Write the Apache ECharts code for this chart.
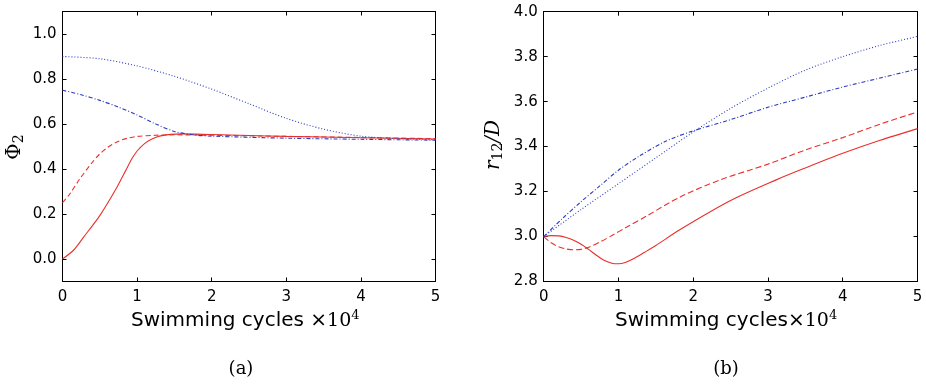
<!DOCTYPE html>
<html><head><meta charset="utf-8">
<script src="https://cdn.jsdelivr.net/npm/echarts@6/dist/echarts.min.js"></script>
<style>html,body{margin:0;padding:0;background:#fff}#c{width:926px;height:384px}</style>
</head><body><div id="c"></div>
<script>
// ---- Panel (a): Phi_2 vs swimming cycles (x10^4)
const xTicks = [0, 1, 2, 3, 4, 5];
const phiTicks = [0.0, 0.2, 0.4, 0.6, 0.8, 1.0];
const rTicks = [2.8, 3.0, 3.2, 3.4, 3.6, 3.8, 4.0];

const phiSolidX = [0, 0.15, 0.28, 0.5, 0.73, 0.85, 0.92, 1.0, 1.1, 1.2, 1.3, 1.45, 1.6, 2, 2.5, 3, 4, 5];
const phiSolidY = [0, 0.04, 0.096, 0.193, 0.319, 0.395, 0.44, 0.48, 0.513, 0.533, 0.546, 0.554, 0.556, 0.553, 0.549, 0.545, 0.539, 0.533];

const phiDashX = [0, 0.1, 0.23, 0.4, 0.5, 0.6, 0.7, 0.8, 0.9, 1, 1.25, 1.5, 2, 3, 4, 5];
const phiDashY = [0.25, 0.29, 0.355, 0.43, 0.467, 0.495, 0.515, 0.53, 0.539, 0.545, 0.55, 0.552, 0.55, 0.545, 0.54, 0.535];

const phiDotX = [0, 0.5, 1, 1.5, 2, 2.5, 3, 3.5, 4, 4.5, 5];
const phiDotY = [0.90, 0.89, 0.858, 0.812, 0.755, 0.69, 0.625, 0.577, 0.546, 0.535, 0.53];

const phiDashDotX = [0, 0.25, 0.5, 0.75, 1, 1.25, 1.5, 1.75, 2, 3, 4, 5];
const phiDashDotY = [0.75, 0.73, 0.705, 0.675, 0.64, 0.60, 0.567, 0.552, 0.546, 0.537, 0.532, 0.528];

// ---- Panel (b): r12/D vs swimming cycles (x10^4)
const rSolidX = [0, 0.1, 0.2, 0.3, 0.4, 0.5, 0.6, 0.7, 0.8, 0.9, 0.95, 1.0, 1.1, 1.2, 1.35, 1.5, 1.82, 2.5, 3.11, 3.5, 4, 4.5, 5];
const rSolidY = [3.0, 3.004, 3.003, 2.996, 2.984, 2.966, 2.943, 2.918, 2.896, 2.882, 2.879, 2.879, 2.886, 2.901, 2.93, 2.96, 3.03, 3.16, 3.252, 3.305, 3.37, 3.428, 3.48];

const rDashX = [0, 0.1, 0.2, 0.3, 0.4, 0.5, 0.6, 0.75, 0.93, 1.1, 1.38, 1.82, 2.36, 3, 3.5, 4, 4.5, 5];
const rDashY = [3.0, 2.972, 2.955, 2.945, 2.941, 2.943, 2.952, 2.975, 3.008, 3.04, 3.092, 3.175, 3.252, 3.322, 3.385, 3.44, 3.50, 3.554];

const rDotX = [0, 0.5, 1, 1.5, 2, 2.5, 3, 3.5, 4, 4.5, 5];
const rDotY = [3.0, 3.12, 3.235, 3.35, 3.465, 3.57, 3.66, 3.74, 3.80, 3.85, 3.89];

const rDashDotX = [0, 0.25, 0.5, 0.75, 1.0, 1.29, 1.64, 2, 2.5, 3, 3.5, 4, 4.5, 5];
const rDashDotY = [3.0, 3.08, 3.155, 3.225, 3.295, 3.36, 3.425, 3.47, 3.52, 3.575, 3.62, 3.665, 3.705, 3.745];

const RED = '#e8302c', BLUE = '#2b3cbf';
const zip = (xs, ys) => xs.map((x, i) => [x, ys[i]]);

const chart = echarts.init(document.getElementById('c'), null, {renderer: 'canvas'});
const FONT = 'DejaVu Sans';
const SERIF = 'DejaVu Serif';

function xAx(grid, bottom) {
  return {
    type: 'value', gridIndex: grid, min: 0, max: 5, position: bottom ? 'bottom' : 'top',
    axisLine: {show: true, onZero: false, lineStyle: {color: '#000', width: 1}},
    axisTick: {show: true, inside: true, length: 4, lineStyle: {color: '#000'}, customValues: xTicks},
    axisLabel: {show: bottom, color: '#000', fontFamily: FONT, fontSize: 15, margin: 8, customValues: xTicks, formatter: v => String(v)},
    splitLine: {show: false}
  };
}
function yAx(grid, left, min, max, ticks) {
  return {
    type: 'value', gridIndex: grid, min: min, max: max, position: left ? 'left' : 'right',
    axisLine: {show: true, onZero: false, lineStyle: {color: '#000', width: 1}},
    axisTick: {show: true, inside: true, length: 4, lineStyle: {color: '#000'}, customValues: ticks},
    axisLabel: {show: left, color: '#000', fontFamily: FONT, fontSize: 15, margin: 6, customValues: ticks, formatter: v => v.toFixed(1)},
    splitLine: {show: false}
  };
}
function line(data, color, dash, xi, yi) {
  return {
    type: 'line', data: data, xAxisIndex: xi, yAxisIndex: yi, showSymbol: false, symbol: 'none',
    smooth: 0.3, animation: false,
    lineStyle: {color: color, width: 1.1, type: dash}
  };
}

chart.setOption({
  animation: false,
  grid: [
    {left: 62.5, right: 490.5, top: 11.5, bottom: 102.5},
    {left: 543.7, right: 8.5, top: 11.7, bottom: 102.5}
  ],
  xAxis: [xAx(0, true), xAx(0, false), xAx(1, true), xAx(1, false)],
  yAxis: [yAx(0, true, -0.1, 1.1, phiTicks), yAx(0, false, -0.1, 1.1, phiTicks),
          yAx(1, true, 2.8, 4.0, rTicks), yAx(1, false, 2.8, 4.0, rTicks)],
  series: [
    line(zip(phiSolidX, phiSolidY), RED, 'solid', 0, 0),
    line(zip(phiDashX, phiDashY), RED, [5, 3], 0, 0),
    line(zip(phiDotX, phiDotY), BLUE, [1, 2], 0, 0),
    line(zip(phiDashDotX, phiDashDotY), BLUE, [4, 2, 1, 2], 0, 0),
    line(zip(rSolidX, rSolidY), RED, 'solid', 2, 2),
    line(zip(rDashX, rDashY), RED, [6, 3], 2, 2),
    line(zip(rDotX, rDotY), BLUE, [1, 2], 2, 2),
    line(zip(rDashDotX, rDashDotY), BLUE, [4, 2, 1, 2], 2, 2)
  ],
  graphic: [
    {type: 'text', x: 131, y: 321, style: {
      text: '{t|Swimming cycles ×}{n|10}{s|4}', textVerticalAlign: 'middle',
      rich: {t: {fontFamily: FONT, fontSize: 20, fill: '#000'},
             n: {fontFamily: SERIF, fontSize: 19, fill: '#000'},
             s: {fontFamily: SERIF, fontSize: 13, fill: '#000', verticalAlign: 'top', padding: [0, 0, 10, 0]}}}},
    {type: 'text', x: 615, y: 321, style: {
      text: '{t|Swimming cycles×}{n|10}{s|4}', textVerticalAlign: 'middle',
      rich: {t: {fontFamily: FONT, fontSize: 20, fill: '#000'},
             n: {fontFamily: SERIF, fontSize: 19, fill: '#000'},
             s: {fontFamily: SERIF, fontSize: 13, fill: '#000', verticalAlign: 'top', padding: [0, 0, 10, 0]}}}},
    {type: 'text', x: 15, y: 147, rotation: Math.PI / 2, style: {
      text: '{a|Φ}{b|2}', textAlign: 'center', textVerticalAlign: 'middle',
      rich: {a: {fontFamily: SERIF, fontSize: 20, fill: '#000'},
             b: {fontFamily: SERIF, fontSize: 14, fill: '#000', verticalAlign: 'bottom', padding: [8, 0, 0, 0]}}}},
    {type: 'text', x: 494, y: 145, rotation: Math.PI / 2, style: {
      text: '{a|r}{b|12}{a|/D}', textAlign: 'center', textVerticalAlign: 'middle',
      rich: {a: {fontFamily: SERIF, fontStyle: 'italic', fontSize: 20, fill: '#000'},
             b: {fontFamily: SERIF, fontSize: 14, fill: '#000', verticalAlign: 'bottom', padding: [8, 0, 0, 0]}}}},
    {type: 'text', x: 241, y: 369, style: {text: '(a)', textAlign: 'center', textVerticalAlign: 'middle', fontFamily: SERIF, fontSize: 18, fill: '#000'}},
    {type: 'text', x: 726, y: 369, style: {text: '(b)', textAlign: 'center', textVerticalAlign: 'middle', fontFamily: SERIF, fontSize: 18, fill: '#000'}}
  ]
});
</script></body></html>
